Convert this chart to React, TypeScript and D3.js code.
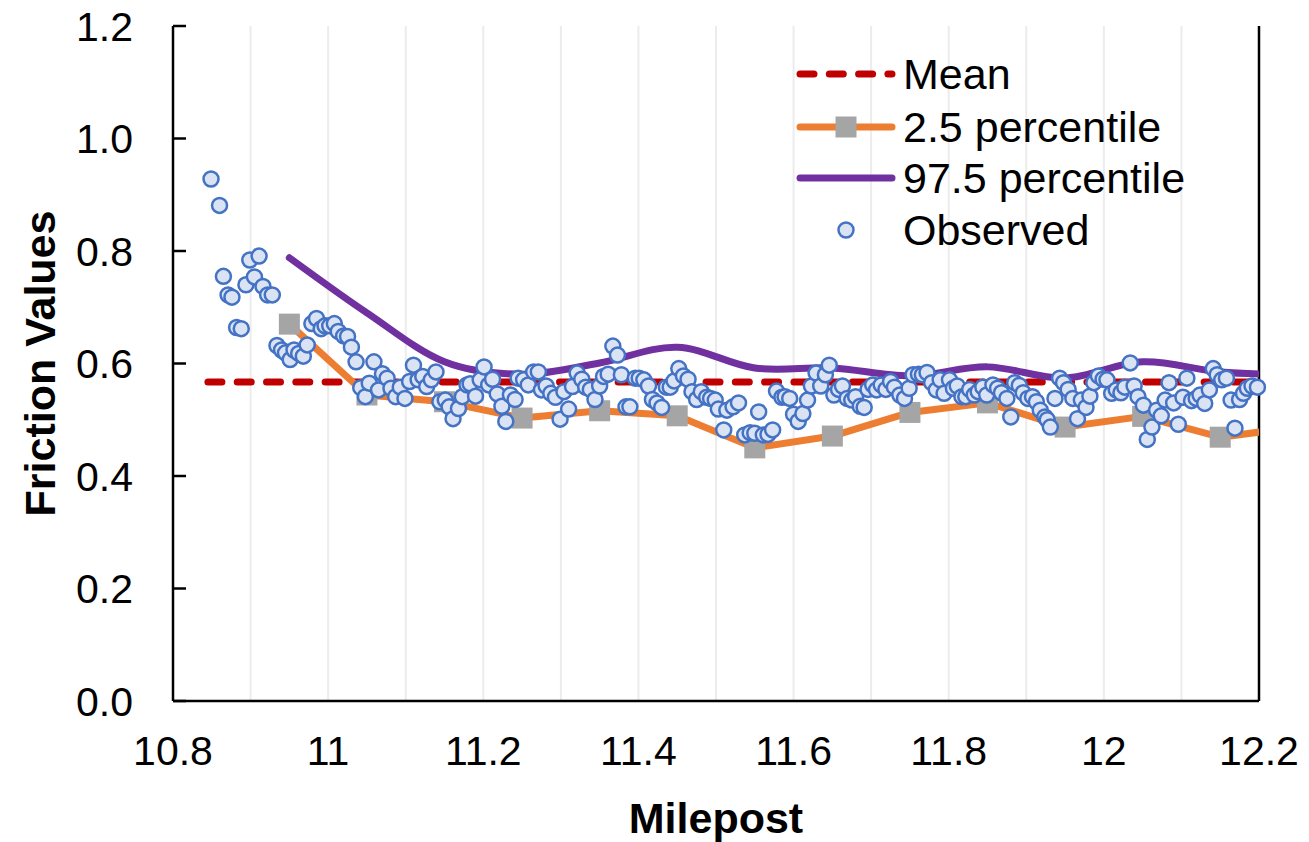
import React, { useEffect, useRef } from "react";
import * as d3 from "d3";

const xTicks = [10.8, 11, 11.2, 11.4, 11.6, 11.8, 12, 12.2];
const xTickLabels = ["10.8", "11", "11.2", "11.4", "11.6", "11.8", "12", "12.2"];
const yTicks = [0, 0.2, 0.4, 0.6, 0.8, 1.0, 1.2];
const yTickLabels = ["0.0", "0.2", "0.4", "0.6", "0.8", "1.0", "1.2"];
const gridMiles = [10.9, 11.0, 11.1, 11.2, 11.3, 11.4, 11.5, 11.6, 11.7, 11.8, 11.9, 12.0, 12.1];

const meanValue = 0.567;
const meanRange = [10.845, 12.2];

const pctMiles = [10.95, 11.05, 11.15, 11.25, 11.35, 11.45, 11.55, 11.65, 11.75, 11.85, 11.95, 12.05, 12.15, 12.25];
const p025 = [0.670, 0.544, 0.532, 0.503, 0.516, 0.507, 0.450, 0.471, 0.513, 0.530, 0.487, 0.506, 0.469, 0.487];
const p975 = [0.788, 0.690, 0.603, 0.581, 0.601, 0.629, 0.592, 0.592, 0.578, 0.594, 0.574, 0.603, 0.585, 0.580];

const obsMile = [
  10.849, 10.860, 10.865, 10.871, 10.876, 10.882, 10.888, 10.894, 10.899, 10.905,
  10.911, 10.916, 10.922, 10.928, 10.934, 10.940, 10.945, 10.951, 10.956, 10.962,
  10.968, 10.973, 10.979, 10.985, 10.991, 10.996, 11.002, 11.008, 11.013, 11.020,
  11.025, 11.030, 11.036, 11.042, 11.048, 11.053, 11.059, 11.065, 11.070, 11.076,
  11.081, 11.087, 11.093, 11.099, 11.105, 11.110, 11.116, 11.122, 11.127, 11.133,
  11.139, 11.144, 11.151, 11.156, 11.161, 11.168, 11.173, 11.179, 11.183, 11.190,
  11.196, 11.201, 11.207, 11.212, 11.218, 11.224, 11.229, 11.235, 11.241, 11.245,
  11.252, 11.258, 11.265, 11.271, 11.275, 11.281, 11.287, 11.293, 11.299, 11.304,
  11.310, 11.315, 11.321, 11.327, 11.332, 11.338, 11.344, 11.350, 11.355, 11.361,
  11.367, 11.373, 11.378, 11.384, 11.389, 11.396, 11.401, 11.407, 11.413, 11.418,
  11.424, 11.430, 11.436, 11.441, 11.446, 11.452, 11.458, 11.464, 11.469, 11.475,
  11.481, 11.488, 11.493, 11.499, 11.503, 11.510, 11.514, 11.522, 11.529, 11.537,
  11.544, 11.550, 11.555, 11.561, 11.567, 11.573, 11.578, 11.585, 11.589, 11.595,
  11.600, 11.606, 11.612, 11.618, 11.623, 11.629, 11.635, 11.641, 11.646, 11.652,
  11.658, 11.663, 11.669, 11.675, 11.680, 11.686, 11.691, 11.696, 11.702, 11.707,
  11.713, 11.719, 11.725, 11.730, 11.737, 11.743, 11.749, 11.754, 11.761, 11.766,
  11.772, 11.778, 11.784, 11.789, 11.794, 11.801, 11.806, 11.811, 11.817, 11.822,
  11.827, 11.833, 11.838, 11.844, 11.849, 11.857, 11.863, 11.868, 11.875, 11.880,
  11.885, 11.891, 11.896, 11.902, 11.908, 11.913, 11.918, 11.924, 11.927, 11.931,
  11.937, 11.943, 11.948, 11.954, 11.960, 11.966, 11.971, 11.977, 11.982, 11.987,
  11.993, 11.999, 12.004, 12.010, 12.016, 12.022, 12.027, 12.034, 12.039, 12.044,
  12.051, 12.056, 12.062, 12.068, 12.074, 12.079, 12.084, 12.090, 12.096, 12.102,
  12.107, 12.113, 12.119, 12.124, 12.130, 12.136, 12.141, 12.146, 12.152, 12.158,
  12.164, 12.169, 12.175, 12.180, 12.185, 12.191, 12.198,
];

const obsFriction = [
  0.928, 0.881, 0.755, 0.722, 0.718, 0.664, 0.662, 0.740, 0.784, 0.754,
  0.791, 0.737, 0.722, 0.722, 0.632, 0.624, 0.619, 0.607, 0.624, 0.618,
  0.613, 0.633, 0.671, 0.680, 0.662, 0.667, 0.667, 0.671, 0.657, 0.649,
  0.648, 0.629, 0.603, 0.557, 0.541, 0.565, 0.603, 0.553, 0.582, 0.574,
  0.556, 0.541, 0.558, 0.538, 0.568, 0.597, 0.571, 0.577, 0.559, 0.571,
  0.585, 0.532, 0.535, 0.523, 0.502, 0.520, 0.541, 0.562, 0.564, 0.542,
  0.571, 0.594, 0.562, 0.572, 0.546, 0.524, 0.497, 0.544, 0.536, 0.574,
  0.571, 0.562, 0.585, 0.585, 0.553, 0.560, 0.547, 0.540, 0.501, 0.550,
  0.519, 0.559, 0.583, 0.572, 0.558, 0.554, 0.536, 0.560, 0.577, 0.581,
  0.631, 0.615, 0.580, 0.523, 0.523, 0.574, 0.574, 0.571, 0.560, 0.536,
  0.530, 0.522, 0.558, 0.558, 0.569, 0.591, 0.578, 0.572, 0.550, 0.536,
  0.550, 0.540, 0.538, 0.535, 0.519, 0.482, 0.517, 0.523, 0.530, 0.473,
  0.477, 0.476, 0.514, 0.473, 0.474, 0.482, 0.551, 0.540, 0.541, 0.538,
  0.510, 0.497, 0.511, 0.535, 0.560, 0.583, 0.560, 0.580, 0.597, 0.544,
  0.554, 0.560, 0.538, 0.535, 0.541, 0.524, 0.522, 0.554, 0.562, 0.553,
  0.562, 0.554, 0.568, 0.558, 0.544, 0.538, 0.556, 0.580, 0.581, 0.580,
  0.584, 0.566, 0.553, 0.571, 0.547, 0.571, 0.556, 0.560, 0.541, 0.541,
  0.554, 0.544, 0.550, 0.558, 0.544, 0.562, 0.556, 0.548, 0.538, 0.505,
  0.566, 0.561, 0.548, 0.538, 0.541, 0.532, 0.517, 0.505, 0.500, 0.487,
  0.538, 0.574, 0.566, 0.554, 0.538, 0.502, 0.535, 0.522, 0.542, 0.566,
  0.578, 0.572, 0.571, 0.547, 0.553, 0.548, 0.558, 0.601, 0.560, 0.541,
  0.526, 0.465, 0.487, 0.517, 0.507, 0.535, 0.566, 0.530, 0.492, 0.540,
  0.574, 0.534, 0.538, 0.544, 0.529, 0.553, 0.591, 0.580, 0.571, 0.574,
  0.535, 0.485, 0.536, 0.547, 0.556, 0.560, 0.558,
];

const legendItems = ["Mean", "2.5 percentile", "97.5 percentile", "Observed"];

const COLORS = {
  mean: "#c00000",
  p025: "#ed7d31",
  marker: "#a5a5a5",
  p975: "#7030a0",
  dotFill: "#dae3f3",
  dotStroke: "#4472c4",
  grid: "#ececec",
};

const FONT = "Liberation Sans, Arial, sans-serif";

export default function App() {
  const ref = useRef<SVGSVGElement | null>(null);

  useEffect(() => {
    const W = 1309, H = 842;
    const left = 173, right = 1259, top = 26, bottom = 701;
    const svg = d3.select(ref.current);
    svg.selectAll("*").remove();
    svg.attr("width", W).attr("height", H);

    const x = d3.scaleLinear().domain([10.8, 12.2]).range([left, right]);
    const y = d3.scaleLinear().domain([0, 1.2]).range([bottom, top]);

    svg.append("rect").attr("width", W).attr("height", H).attr("fill", "#fff");

    svg.append("defs").append("clipPath").attr("id", "plotclip")
      .append("rect").attr("x", left).attr("y", top - 10).attr("width", right - left).attr("height", bottom - top + 10);

    svg.append("g").selectAll("line").data(gridMiles).join("line")
      .attr("x1", (d) => x(d)).attr("x2", (d) => x(d))
      .attr("y1", top).attr("y2", bottom)
      .attr("stroke", COLORS.grid).attr("stroke-width", 2);

    const ax = svg.append("g").attr("stroke", "#000").attr("stroke-width", 2.5);
    ax.append("line").attr("x1", left).attr("x2", left).attr("y1", top).attr("y2", bottom);
    ax.append("line").attr("x1", left).attr("x2", right).attr("y1", bottom).attr("y2", bottom);
    ax.append("line").attr("x1", right).attr("x2", right).attr("y1", top).attr("y2", bottom);
    ax.selectAll("line.yt").data(yTicks).join("line").attr("class", "yt")
      .attr("x1", left).attr("x2", left + 13)
      .attr("y1", (d) => y(d)).attr("y2", (d) => y(d));

    svg.append("g").selectAll("text").data(yTicks).join("text")
      .attr("x", left - 40).attr("y", (d) => y(d)).attr("dy", "0.36em")
      .attr("text-anchor", "end").attr("font-family", FONT).attr("font-size", 41)
      .text((d, i) => yTickLabels[i]);
    svg.append("g").selectAll("text").data(xTicks).join("text")
      .attr("x", (d) => x(d)).attr("y", 765)
      .attr("text-anchor", "middle").attr("font-family", FONT).attr("font-size", 41)
      .text((d, i) => xTickLabels[i]);

    svg.append("text").attr("x", (left + right) / 2).attr("y", 833)
      .attr("text-anchor", "middle").attr("font-family", FONT).attr("font-weight", "bold")
      .attr("font-size", 43).text("Milepost");
    svg.append("text").attr("transform", `translate(55,${(top + bottom) / 2}) rotate(-90)`)
      .attr("text-anchor", "middle").attr("font-family", FONT).attr("font-weight", "bold")
      .attr("font-size", 43).text("Friction Values");

    const plot = svg.append("g").attr("clip-path", "url(#plotclip)");

    plot.append("line")
      .attr("x1", x(meanRange[0])).attr("x2", x(meanRange[1]))
      .attr("y1", y(meanValue)).attr("y2", y(meanValue))
      .attr("stroke", COLORS.mean).attr("stroke-width", 7)
      .attr("stroke-dasharray", "14 15.3").attr("stroke-linecap", "round");

    const pts025 = pctMiles.map((m, i) => [m, p025[i]] as [number, number]);
    const pts975 = pctMiles.map((m, i) => [m, p975[i]] as [number, number]);

    const lin = d3.line<[number, number]>().x((d) => x(d[0])).y((d) => y(d[1]));
    const smooth = d3.line<[number, number]>().x((d) => x(d[0])).y((d) => y(d[1])).curve(d3.curveCatmullRom.alpha(0));

    plot.append("path").attr("d", lin(pts025) || "")
      .attr("fill", "none").attr("stroke", COLORS.p025).attr("stroke-width", 7).attr("stroke-linejoin", "round").attr("stroke-linecap", "round");
    plot.append("g").selectAll("rect").data(pts025).join("rect")
      .attr("x", (d) => x(d[0]) - 10.5).attr("y", (d) => y(d[1]) - 10.5)
      .attr("width", 21).attr("height", 21).attr("fill", COLORS.marker);

    plot.append("path").attr("d", smooth(pts975) || "")
      .attr("fill", "none").attr("stroke", COLORS.p975).attr("stroke-width", 7).attr("stroke-linecap", "round");

    svg.append("g").selectAll("circle").data(obsMile).join("circle")
      .attr("cx", (d) => x(d)).attr("cy", (d, i) => y(obsFriction[i]))
      .attr("r", 7.5).attr("fill", COLORS.dotFill).attr("stroke", COLORS.dotStroke).attr("stroke-width", 2.5);

    const lg = svg.append("g");
    const rowsY = [74, 127, 178, 230];
    const lx1 = 797, lx2 = 895, lmid = 846, tx = 903;
    lg.append("line").attr("x1", lx1 + 3).attr("x2", lx2 - 3).attr("y1", rowsY[0]).attr("y2", rowsY[0])
      .attr("stroke", COLORS.mean).attr("stroke-width", 7).attr("stroke-dasharray", "14 15.3").attr("stroke-linecap", "round");
    lg.append("line").attr("x1", lx1 + 3).attr("x2", lx2 - 3).attr("y1", rowsY[1]).attr("y2", rowsY[1])
      .attr("stroke", COLORS.p025).attr("stroke-width", 7).attr("stroke-linecap", "round");
    lg.append("rect").attr("x", lmid - 10.5).attr("y", rowsY[1] - 10.5).attr("width", 21).attr("height", 21).attr("fill", COLORS.marker);
    lg.append("line").attr("x1", lx1 + 3).attr("x2", lx2 - 3).attr("y1", rowsY[2]).attr("y2", rowsY[2])
      .attr("stroke", COLORS.p975).attr("stroke-width", 7).attr("stroke-linecap", "round");
    lg.append("circle").attr("cx", lmid).attr("cy", rowsY[3]).attr("r", 7.5)
      .attr("fill", COLORS.dotFill).attr("stroke", COLORS.dotStroke).attr("stroke-width", 2.5);
    lg.selectAll("text").data(legendItems).join("text")
      .attr("x", tx).attr("y", (d, i) => rowsY[i]).attr("dy", "0.36em")
      .attr("font-family", FONT).attr("font-size", 43).text((d) => d);
  }, []);

  return (
    <svg ref={ref} style={{ position: "absolute", left: 0, top: 0, display: "block" }} />
  );
}
